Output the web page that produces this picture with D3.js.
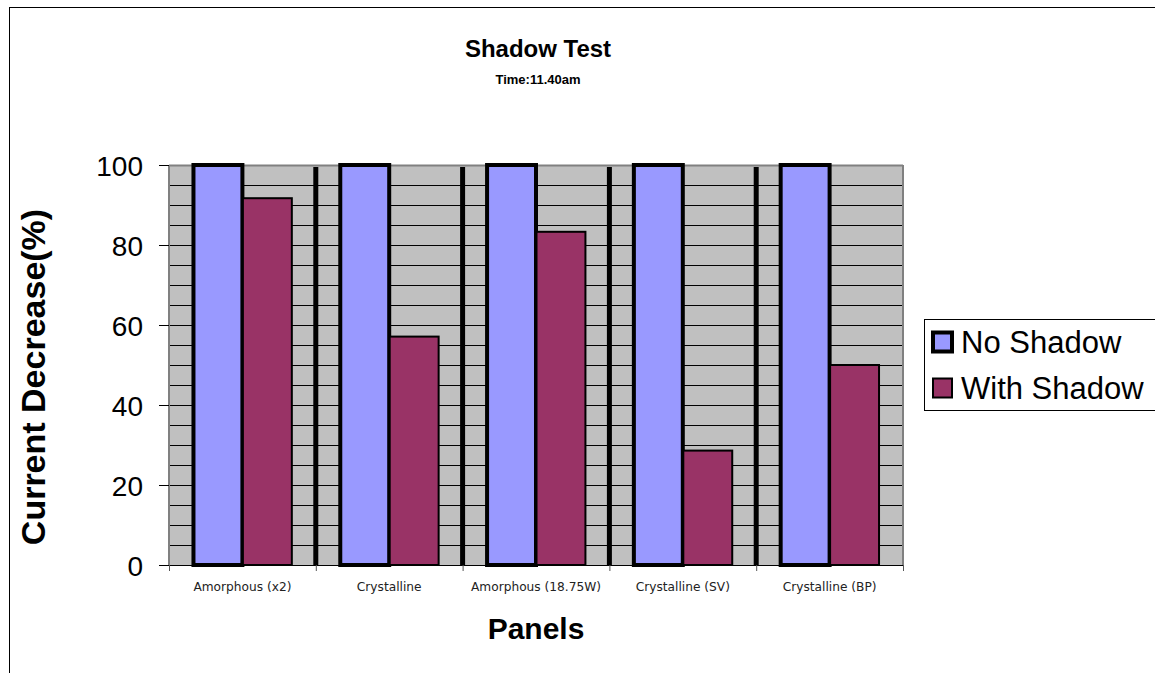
<!DOCTYPE html>
<html>
<head>
<meta charset="utf-8">
<script src="https://cdn.jsdelivr.net/npm/d3@7"></script>
<style>
  html, body { margin: 0; padding: 0; background: #fff; }
  svg { display: block; font-family: "Liberation Sans", Arial, sans-serif; }
</style>
</head>
<body>
<svg id="chart" width="1155" height="673"></svg>
<script>
// Panel types and measured current (percent of unshaded reading)
const categories = ["Amorphous (x2)", "Crystalline", "Amorphous (18.75W)", "Crystalline (SV)", "Crystalline (BP)"];
const noShadow = [100, 100, 100, 100, 100];
const withShadow = [91.7, 57.1, 83.3, 28.6, 50];
const seriesNames = ["No Shadow", "With Shadow"];
const yTicks = [0, 20, 40, 60, 80, 100];
const dividerValue = 100;

const svg = d3.select("#chart");
const plot = { left: 169, right: 903, top: 165, bottom: 565 };

// Outer chart frame
svg.append("rect")
  .attr("x", 9.5).attr("y", 7.5)
  .attr("width", 1160).attr("height", 700)
  .attr("fill", "#fff").attr("stroke", "#000").attr("stroke-width", 1);

const x = d3.scaleBand().domain(categories).range([plot.left, plot.right]).paddingInner(0).paddingOuter(0);
const y = d3.scaleLinear().domain([0, 100]).range([plot.bottom, plot.top]);
const inner = d3.scaleBand().domain(seriesNames).range([0, x.bandwidth()]).paddingInner(0).paddingOuter(0.5);

// Plot background
svg.append("rect")
  .attr("x", plot.left).attr("y", plot.top)
  .attr("width", plot.right - plot.left).attr("height", plot.bottom - plot.top)
  .attr("fill", "#c0c0c0");

// Horizontal gridlines every 5 units
svg.append("g").selectAll("line")
  .data(d3.range(5, 101, 5))
  .join("line")
  .attr("x1", plot.left).attr("x2", plot.right)
  .attr("y1", d => Math.round(y(d)) + 0.5).attr("y2", d => Math.round(y(d)) + 0.5)
  .attr("stroke", d => d === 100 ? "#808080" : "#000")
  .attr("stroke-width", d => d === 100 ? 2 : 1);

// Plot frame edges (left and right, grey)
[plot.left, plot.right].forEach(px => {
  svg.append("line")
    .attr("x1", px).attr("x2", px)
    .attr("y1", plot.top).attr("y2", plot.bottom)
    .attr("stroke", "#808080").attr("stroke-width", 2);
});

// Thick dividers between panel groups
svg.append("g").selectAll("line")
  .data(categories.slice(1))
  .join("line")
  .attr("x1", d => x(d)).attr("x2", d => x(d))
  .attr("y1", y(dividerValue) + 2).attr("y2", y(0))
  .attr("stroke", "#000").attr("stroke-width", 5);

// Bars
const colors = { "No Shadow": "#9999ff", "With Shadow": "#993366" };
const strokeW = { "No Shadow": 4, "With Shadow": 2 };
const rows = categories.map((c, i) => ({ c, vals: [noShadow[i], withShadow[i]] }));

const groups = svg.append("g").selectAll("g")
  .data(rows).join("g")
  .attr("transform", d => `translate(${x(d.c)},0)`);

groups.selectAll("rect")
  .data(d => d.vals.map((v, j) => ({ s: seriesNames[j], v })))
  .join("rect")
  .attr("x", d => inner(d.s) + (d.s === "No Shadow" ? 0 : 0.5))
  .attr("y", d => y(d.v))
  .attr("width", d => inner.bandwidth())
  .attr("height", d => y(0) - y(d.v))
  .attr("fill", d => colors[d.s])
  .attr("stroke", "#000")
  .attr("stroke-width", d => strokeW[d.s])
  .attr("stroke-linejoin", "miter");

// Y axis
const yAxis = d3.axisLeft(y).tickValues(yTicks).tickSize(10).tickPadding(16).tickFormat(d3.format("d"));
const gy = svg.append("g").attr("transform", `translate(${plot.left},0)`).call(yAxis);
gy.select(".domain").remove();
gy.selectAll(".tick line").attr("stroke", "#000");
gy.selectAll(".tick text")
  .attr("font-size", 28).attr("fill", "#000").attr("dy", "0.36em")
  .attr("font-family", "'Liberation Sans', Arial, sans-serif");

// X axis
const xAxis = d3.axisBottom(x).tickSize(0).tickPadding(17);
const gx = svg.append("g").attr("transform", `translate(0,${plot.bottom})`).call(xAxis);
gx.select(".domain").attr("stroke", "#000").attr("d", `M${plot.left},0.5H${plot.right}`);
gx.selectAll(".tick text")
  .attr("font-size", 12.2).attr("fill", "#222")
  .attr("font-family", "'DejaVu Sans', sans-serif")
  .attr("dy", "0.71em");
// boundary ticks between categories
svg.append("g").selectAll("line")
  .data(categories.map(c => x(c)).concat([plot.right]))
  .join("line")
  .attr("x1", d => d + 0.5).attr("x2", d => d + 0.5)
  .attr("y1", plot.bottom).attr("y2", plot.bottom + 6)
  .attr("stroke", "#555").attr("stroke-width", 1);

// Titles
svg.append("text").attr("x", 538).attr("y", 57).attr("text-anchor", "middle")
  .attr("font-size", 24).attr("font-weight", "bold").text("Shadow Test");
svg.append("text").attr("x", 538).attr("y", 84).attr("text-anchor", "middle")
  .attr("font-size", 13).attr("font-weight", "bold").text("Time:11.40am");
svg.append("text").attr("x", 536).attr("y", 639).attr("text-anchor", "middle")
  .attr("font-size", 30).attr("font-weight", "bold").text("Panels");
svg.append("text")
  .attr("transform", `translate(45,377) rotate(-90)`)
  .attr("text-anchor", "middle")
  .attr("font-size", 34).attr("font-weight", "bold").text("Current Decrease(%)");

// Legend
const lg = svg.append("g");
lg.append("rect").attr("x", 924.5).attr("y", 319.5).attr("width", 240).attr("height", 91)
  .attr("fill", "#fff").attr("stroke", "#000").attr("stroke-width", 1);
seriesNames.forEach((s, i) => {
  const cy = 342 + i * 46;
  lg.append("rect").attr("x", 933).attr("y", cy - 9.5).attr("width", 19).attr("height", 19)
    .attr("fill", colors[s]).attr("stroke", "#000").attr("stroke-width", s === "No Shadow" ? 4 : 2);
  lg.append("text").attr("x", 961).attr("y", cy + 11).attr("font-size", 31).text(s);
});
</script>
</body>
</html>
